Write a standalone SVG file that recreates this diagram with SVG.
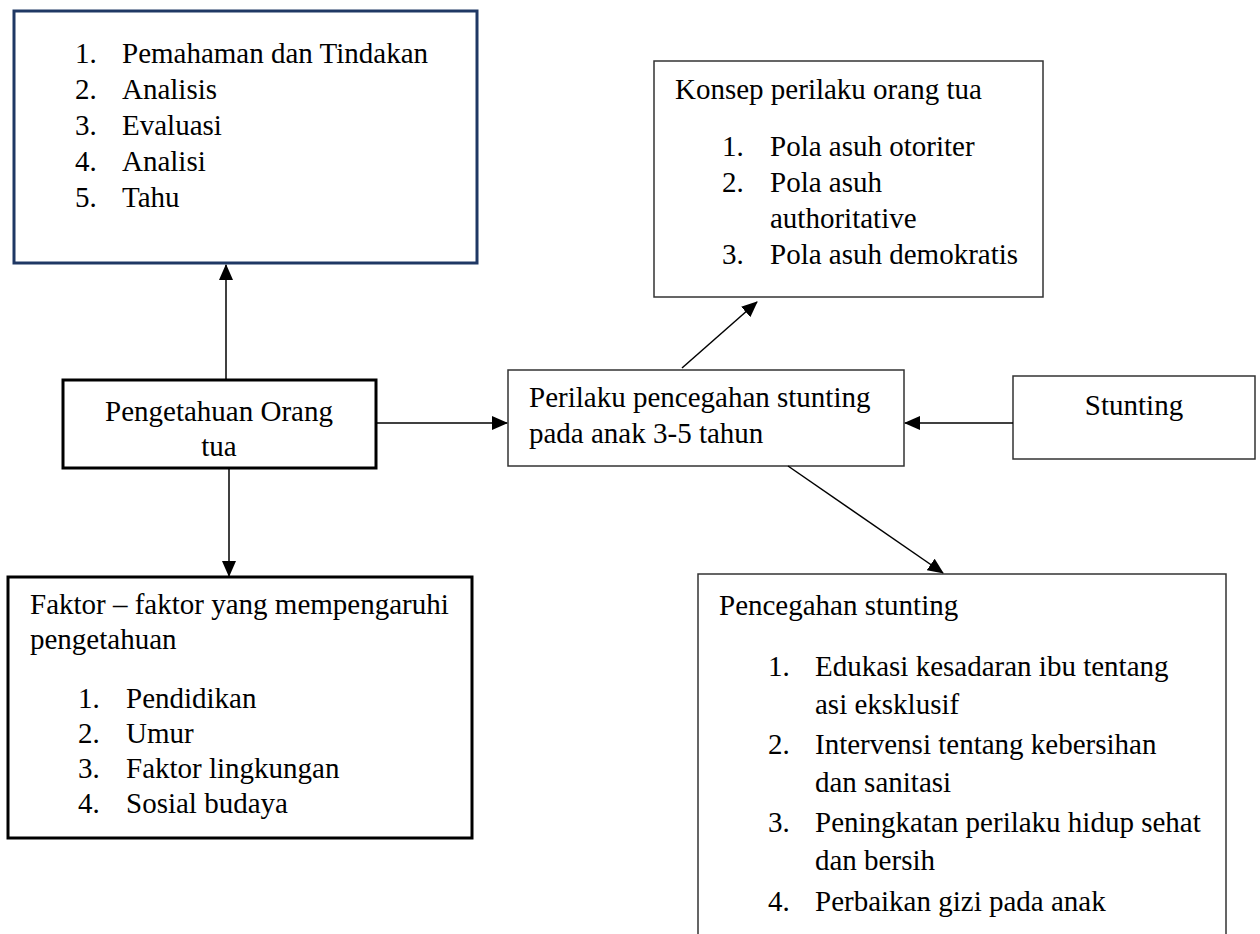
<svg xmlns="http://www.w3.org/2000/svg" width="1260" height="934" viewBox="0 0 1260 934">
<defs>
<marker id="ah" markerUnits="userSpaceOnUse" markerWidth="16" markerHeight="14" refX="15" refY="7" orient="auto">
<path d="M0,0 L16,7 L0,14 Z" fill="#000"/>
</marker>
<style>
text{font-family:"Liberation Serif","Times New Roman",serif;font-size:29px;fill:#000}
.thin{fill:#fff;stroke:#333;stroke-width:1.5}
.thick{fill:#fff;stroke:#000;stroke-width:3}
.navy{fill:#fff;stroke:#1F3864;stroke-width:3}
.c{text-anchor:middle}
.conn line{stroke:#000;stroke-width:1.5;marker-end:url(#ah)}
</style>
</defs>
<rect width="1260" height="934" fill="#fff"/>
<g id="node-tahapan">
<rect class="navy" x="14" y="11" width="463" height="252"/>
<text x="75" y="63">1.</text><text x="122" y="63">Pemahaman dan Tindakan</text>
<text x="75" y="99">2.</text><text x="122" y="99">Analisis</text>
<text x="75" y="135">3.</text><text x="122" y="135">Evaluasi</text>
<text x="75" y="171">4.</text><text x="122" y="171">Analisi</text>
<text x="75" y="207">5.</text><text x="122" y="207">Tahu</text>
</g>
<g id="node-konsep">
<rect class="thin" x="654" y="61" width="389" height="236"/>
<text x="675" y="99">Konsep perilaku orang tua</text>
<text x="722" y="156">1.</text><text x="770" y="156">Pola asuh otoriter</text>
<text x="722" y="192">2.</text><text x="770" y="192">Pola asuh</text>
<text x="770" y="228">authoritative</text>
<text x="722" y="264">3.</text><text x="770" y="264">Pola asuh demokratis</text>
</g>
<g id="node-pengetahuan">
<rect class="thick" x="63" y="380" width="313" height="88"/>
<text class="c" x="219" y="421">Pengetahuan Orang</text>
<text class="c" x="219" y="456">tua</text>
</g>
<g id="node-perilaku">
<rect class="thin" x="508" y="370" width="396" height="96"/>
<text x="529" y="407">Perilaku pencegahan stunting</text>
<text x="529" y="443">pada anak 3-5 tahun</text>
</g>
<g id="node-stunting">
<rect class="thin" x="1013" y="376" width="242" height="83"/>
<text class="c" x="1134" y="415">Stunting</text>
</g>
<g id="node-faktor">
<rect class="thick" x="8" y="577" width="464" height="261"/>
<text x="30" y="614">Faktor – faktor yang mempengaruhi</text>
<text x="30" y="649">pengetahuan</text>
<text x="78" y="708">1.</text><text x="126" y="708">Pendidikan</text>
<text x="78" y="743">2.</text><text x="126" y="743">Umur</text>
<text x="78" y="778">3.</text><text x="126" y="778">Faktor lingkungan</text>
<text x="78" y="813">4.</text><text x="126" y="813">Sosial budaya</text>
</g>
<g id="node-pencegahan">
<rect class="thin" x="698" y="574" width="528" height="380"/>
<text x="719" y="615">Pencegahan stunting</text>
<text x="768" y="676">1.</text><text x="815" y="676">Edukasi kesadaran ibu tentang</text>
<text x="815" y="714">asi eksklusif</text>
<text x="768" y="754">2.</text><text x="815" y="754">Intervensi tentang kebersihan</text>
<text x="815" y="792">dan sanitasi</text>
<text x="768" y="832">3.</text><text x="815" y="832">Peningkatan perilaku hidup sehat</text>
<text x="815" y="870">dan bersih</text>
<text x="768" y="911">4.</text><text x="815" y="911">Perbaikan gizi pada anak</text>
</g>
<g id="connectors" class="conn">
<line x1="226" y1="380" x2="226" y2="265"/>
<line x1="229" y1="468" x2="229" y2="576"/>
<line x1="376" y1="423" x2="507" y2="423"/>
<line x1="682" y1="368" x2="757" y2="302"/>
<line x1="1013" y1="423" x2="905" y2="423"/>
<line x1="788" y1="466" x2="943" y2="573"/>
</g>
</svg>
